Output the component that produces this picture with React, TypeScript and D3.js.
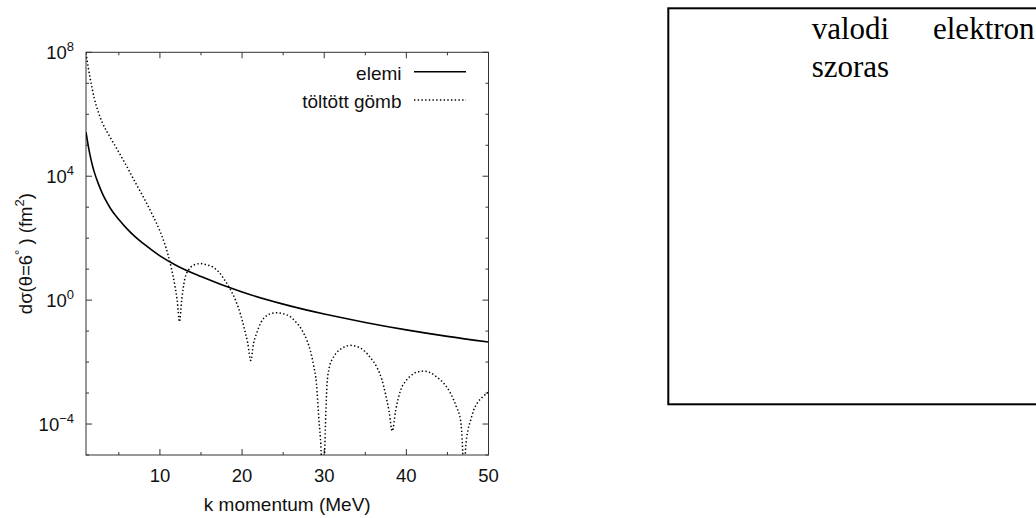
import * as d3 from 'd3';

// elemi (point-like) cross section as log10 values
const elemiK = [1, 1.2, 1.4, 1.6, 1.8, 2, 2.5, 3, 3.5, 4, 5, 6, 7, 8, 10, 12, 15, 20, 25, 30, 35, 40, 45, 50];
const elemiLog = [5.42, 5.1, 4.8, 4.55, 4.33, 4.14, 3.76, 3.44, 3.18, 2.95, 2.6, 2.3, 2.04, 1.82, 1.43, 1.12, 0.76, 0.26, -0.13, -0.45, -0.72, -0.96, -1.17, -1.35];

// töltött gömb (charged sphere), log10 values
const gombK = [
  1, 1.25, 1.5, 1.75, 2, 2.5, 3, 3.5, 4, 4.5, 5, 5.5, 6, 6.5, 7, 7.5, 8, 8.5, 9, 9.5, 10, 10.5,
  11, 11.4, 11.8, 12.1, 12.38, 12.65, 13, 13.5, 14.2, 14.9, 15.7, 16.5, 17.2, 17.8, 18.5, 19.2,
  19.8, 20.3, 20.7, 21.05, 21.4, 21.8, 22.3, 23, 23.6, 24.3, 25, 25.9, 26.6, 27.3, 27.9, 28.3,
  28.7, 29.05, 29.33, 29.62, 29.84, 30.06, 30.18, 30.35, 30.63, 31, 31.4, 32.2, 33.2, 34, 34.8,
  35.6, 36.4, 37, 37.45, 37.9, 38.28, 38.7, 39.3, 39.9, 40.5, 41.3, 42.1, 42.9, 43.7, 44.6, 45.4,
  46.1, 46.6, 46.85, 47.03, 47.2, 47.5, 47.8, 48.2, 48.6, 49.3, 50
];
const gombLog = [
  7.97, 7.55, 7.17, 6.83, 6.52, 6.07, 5.72, 5.46, 5.23, 5.0, 4.77, 4.54, 4.3, 4.05, 3.8, 3.56, 3.32, 3.07, 2.8, 2.53, 2.23, 1.88,
  1.45, 1.02, 0.5, 0.0, -0.7, 0.0, 0.65, 0.98, 1.14, 1.18, 1.14, 1.06, 0.9, 0.68, 0.38, 0.0,
  -0.45, -0.95, -1.4, -1.95, -1.4, -1.05, -0.72, -0.5, -0.43, -0.41, -0.44, -0.54, -0.72, -0.97, -1.3, -1.62,
  -2.1, -2.69, -3.77, -4.85, -6.5, -4.85, -3.77, -2.69, -2.16, -1.9, -1.73, -1.55, -1.46, -1.5, -1.62,
  -1.85, -2.16, -2.55, -3.02, -3.6, -4.23, -3.56, -2.91, -2.62, -2.45, -2.32, -2.29, -2.34, -2.48, -2.7, -3.02,
  -3.45, -3.88, -4.85, -6.5, -4.85, -4.2, -3.9, -3.55, -3.34, -3.12, -2.97
];

const xMajor = [10, 20, 30, 40, 50];
const xMinor = [5, 15, 25, 35, 45];
const yDecades = [-5, -4, -3, -2, -1, 0, 1, 2, 3, 4, 5, 6, 7, 8];
const yLabeled = [8, 4, 0, -4];

const legendNames = ['elemi', 'töltött gömb'];

const W = 1036;
const H = 518;
const left = 86, right = 488.5, top = 52.3, bottom = 455;
const sans = '"Liberation Sans", Arial, Helvetica, sans-serif';
const serif = '"Liberation Serif", "Times New Roman", serif';
const axisCol = '#333';

export default function App() {
  const x = d3.scaleLinear().domain([1, 50]).range([left, right]);
  const y = d3.scaleLog().domain([1e-5, 1e8]).range([bottom, top]);

  const line = d3.line<[number, number]>()
    .x(d => x(d[0]))
    .y(d => y(Math.pow(10, d[1])))
    .curve(d3.curveMonotoneX);

  const elemiPath = line(elemiK.map((k, i) => [k, elemiLog[i]]));
  const gombPath = line(gombK.map((k, i) => [k, gombLog[i]]));

  return (
    <div style={{ position: 'fixed', left: 0, top: 0 }}>
      <svg width={W} height={H} style={{ display: 'block', background: '#fff' }}>
        <defs>
          <clipPath id="plot">
            <rect x={left} y={top} width={right - left} height={bottom - top} />
          </clipPath>
        </defs>

        {/* x ticks, bottom and top, pointing inward */}
        {xMajor.concat(xMinor).map(v => {
          const len = xMajor.includes(v) ? 6 : 3;
          return (
            <g key={'x' + v} stroke={axisCol} strokeWidth={1}>
              <line x1={x(v)} x2={x(v)} y1={bottom} y2={bottom - len} />
              <line x1={x(v)} x2={x(v)} y1={top} y2={top + len} />
            </g>
          );
        })}
        {xMajor.map(v => (
          <text key={'xl' + v} x={x(v)} y={481.5} textAnchor="middle" fontFamily={sans} fontSize={18.5} fill="#111">
            {v}
          </text>
        ))}

        {/* y ticks, every decade */}
        {yDecades.map(e => {
          const len = yLabeled.includes(e) ? 6 : 3;
          const yy = y(Math.pow(10, e));
          return (
            <g key={'y' + e} stroke={axisCol} strokeWidth={1}>
              <line x1={left} x2={left + len} y1={yy} y2={yy} />
              <line x1={right} x2={right - len} y1={yy} y2={yy} />
            </g>
          );
        })}
        {yLabeled.map(e => (
          <text key={'yl' + e} x={74} y={y(Math.pow(10, e)) + 7} textAnchor="end" fontFamily={sans} fontSize={18.5} fill="#111">
            10<tspan dy={-8} fontSize={13}>{e < 0 ? '\u2212' + Math.abs(e) : e}</tspan>
          </text>
        ))}

        {/* frame */}
        <rect x={left} y={top} width={right - left} height={bottom - top} fill="none" stroke={axisCol} strokeWidth={1} />

        {/* curves */}
        <g clipPath="url(#plot)" fill="none" stroke="#000">
          <path d={elemiPath ?? ''} strokeWidth={1.6} />
          <path d={gombPath ?? ''} strokeWidth={1.5} strokeDasharray="1.4 2.3" />
        </g>

        {/* legend */}
        <text x={401.5} y={79.5} textAnchor="end" fontFamily={sans} fontSize={19} fill="#111">{legendNames[0]}</text>
        <line x1={414} x2={466} y1={71.7} y2={71.7} stroke="#000" strokeWidth={1.6} />
        <text x={401.5} y={108} textAnchor="end" fontFamily={sans} fontSize={19} fill="#111">{legendNames[1]}</text>
        <line x1={414} x2={466} y1={100} y2={100} stroke="#000" strokeWidth={1.5} strokeDasharray="1.4 2.3" />

        {/* axis titles */}
        <text x={(left + right) / 2} y={511} textAnchor="middle" fontFamily={sans} fontSize={19} fill="#111">
          k momentum (MeV)
        </text>
        <text transform={`translate(32,${(top + bottom) / 2}) rotate(-90)`} textAnchor="middle" fontFamily={sans} fontSize={18.5} fill="#111">
          dσ(θ=6<tspan dy={-8} fontSize={13}>°</tspan><tspan dy={8}> ) (fm</tspan><tspan dy={-8} fontSize={13}>2</tspan><tspan dy={8}>)</tspan>
        </text>

        {/* right-hand box */}
        <rect x={668.3} y={8.3} width={400} height={396} fill="none" stroke="#000" strokeWidth={2} />
        <text x={811.7} y={39} fontFamily={serif} fontSize={31} fill="#000">valodi</text>
        <text x={933} y={39} fontFamily={serif} fontSize={31} fill="#000">elektron</text>
        <text x={811.7} y={77} fontFamily={serif} fontSize={31} fill="#000">szoras</text>
      </svg>
    </div>
  );
}
